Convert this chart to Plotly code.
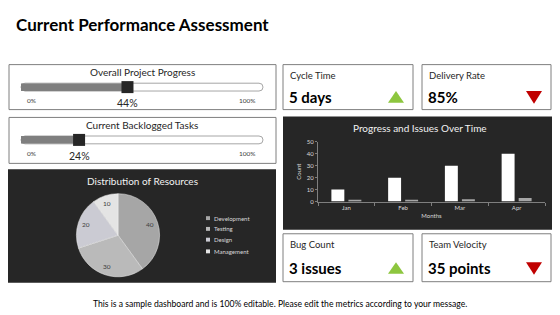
import math
import plotly.graph_objects as go

W, H = 560, 315
def X(p): return p / W
def Y(p): return 1 - p / H

FONT = "Lato"

# ---- data ----
progress_titles = ["Overall Project Progress", "Current Backlogged Tasks"]
progress_values = [44, 24]

kpi_labels = ["Cycle Time", "Delivery Rate", "Bug Count", "Team Velocity"]
kpi_values = ["5 days", "85%", "3 issues", "35 points"]
kpi_trend = ["up", "down", "up", "down"]

res_labels = ["Development", "Testing", "Design", "Management"]
res_values = [40, 30, 20, 10]
res_colors = ["#a6a6a6", "#bababa", "#cbcbd3", "#e4e4e4"]

months = ["Jan", "Feb", "Mar", "Apr"]
progress_series = [10, 20, 30, 40]
issues_series = [1, 1, 2, 3]

fig = go.Figure()
shapes = []
ann = []

def box(x0, y0, x1, y1, fill="white", line="#7f7f7f", lw=1):
    shapes.append(dict(type="rect", xref="paper", yref="paper", x0=X(x0), x1=X(x1),
                       y0=Y(y1), y1=Y(y0), fillcolor=fill, line=dict(color=line, width=lw),
                       layer="below"))

def text(x, y, s, size, color="#262626", xanchor="center", bold=False, xref="paper"):
    ann.append(dict(x=(X(x) if xref == "paper" else x), y=Y(y), xref=xref, yref="paper",
                    text=(f"<b>{s}</b>" if bold else s), showarrow=False,
                    xanchor=xanchor, yanchor="middle",
                    font=dict(family=FONT, size=size, color=color)))

# title
text(14, 21, "Current Performance Assessment", 17, "#000000", "left", True)

# ---- progress sliders ----
slider_boxes = [(9, 62, 276, 108), (9, 116, 276, 163)]
track_y = [85, 139]
for i, (title, val) in enumerate(zip(progress_titles, progress_values)):
    bx = slider_boxes[i]
    box(*bx)
    cy = track_y[i]
    text(142, bx[1] + 8, title, 10, "#262626")
    ax = i + 2
    xa, ya = f"x{ax}", f"y{ax}"
    r = 4
    x0, x1 = 21, 263
    path = (f"M {X(x0 + r)},{Y(cy - r)} L {X(x1 - r)},{Y(cy - r)} "
            f"Q {X(x1)},{Y(cy - r)} {X(x1)},{Y(cy)} Q {X(x1)},{Y(cy + r)} {X(x1 - r)},{Y(cy + r)} "
            f"L {X(x0 + r)},{Y(cy + r)} Q {X(x0)},{Y(cy + r)} {X(x0)},{Y(cy)} "
            f"Q {X(x0)},{Y(cy - r)} {X(x0 + r)},{Y(cy - r)} Z")
    shapes.append(dict(type="path", xref="paper", yref="paper", path=path,
                       fillcolor="white", line=dict(color="#a6a6a6", width=1), layer="below"))
    fig.add_trace(go.Bar(x=[val], y=[0], orientation="h", width=1, marker_color="#7f7f7f",
                         marker_line_width=0, xaxis=xa, yaxis=ya, showlegend=False,
                         hoverinfo="skip"))
    fig.add_trace(go.Scatter(x=[val], y=[0], mode="markers",
                             marker=dict(symbol="square", size=12, color="#262626"),
                             xaxis=xa, yaxis=ya, showlegend=False, cliponaxis=False,
                             hoverinfo="skip"))
    fig.layout[f"xaxis{ax}"] = dict(domain=[X(x0), X(x1)], range=[0, 100], visible=False,
                                    anchor=ya, fixedrange=True)
    fig.layout[f"yaxis{ax}"] = dict(domain=[Y(cy + 4), Y(cy - 4)], range=[-0.5, 0.5],
                                    visible=False, anchor=xa, fixedrange=True)
    text(31, cy + 14, "0%", 6.5, "#404040")
    text(247, cy + 14, "100%", 6.5, "#404040")
    ann.append(dict(x=val, y=Y(cy + 16), xref=xa, yref="paper", text=f"{val}%",
                    showarrow=False, xanchor="center", yanchor="middle",
                    font=dict(family=FONT, size=10.5, color="#262626")))

# ---- KPI boxes ----
kpi_boxes = [(283, 62, 413, 108), (422, 62, 551, 108), (283, 235, 413, 284), (422, 235, 551, 284)]
for (x0, y0, x1, y1), lab, v, tr in zip(kpi_boxes, kpi_labels, kpi_values, kpi_trend):
    box(x0, y0, x1, y1)
    text(x0 + 5, y0 + 11, lab, 9.5, "#262626", "left")
    vy = y0 + 33 if y1 - y0 < 48 else y0 + 35
    text(x0 + 4, vy, v, 15, "#000000", "left", True)
    tx = x1 - 17
    if tr == "up":
        p = f"M {X(tx - 8)},{Y(vy + 6)} L {X(tx + 8)},{Y(vy + 6)} L {X(tx)},{Y(vy - 6)} Z"
        col = "#8dc63f"
    else:
        p = f"M {X(tx - 8)},{Y(vy - 6)} L {X(tx + 8)},{Y(vy - 6)} L {X(tx)},{Y(vy + 7)} Z"
        col = "#c00000"
    shapes.append(dict(type="path", xref="paper", yref="paper", path=p, fillcolor=col,
                       line=dict(width=0)))

# ---- pie panel ----
box(8, 169, 276, 285, fill="#262626", line="#262626", lw=0)
text(142, 181, "Distribution of Resources", 10, "#f2f2f2")
pcx, pcy, pr = 118, 236.5, 42.5
fig.add_trace(go.Pie(labels=res_labels, values=res_values, sort=False, direction="clockwise",
                     rotation=0, marker=dict(colors=res_colors, line=dict(color="#f2f2f2", width=0.5)),
                     textinfo="none",
                     domain=dict(x=[X(pcx - pr), X(pcx + pr)], y=[Y(pcy + pr), Y(pcy - pr)]),
                     showlegend=False, hoverinfo="label+value"))
# value labels placed toward the outer edge of each slice (like the original)
tot = sum(res_values)
cum = 0
for v in res_values:
    mid = (cum + v / 2) / tot * 2 * math.pi
    cum += v
    rr = pr * 0.8
    text(pcx + rr * math.sin(mid), pcy - rr * math.cos(mid), str(v), 6.5, "#404040")
leg_y = [219, 230, 241, 253]
for lab, col, ly in zip(res_labels, res_colors, leg_y):
    shapes.append(dict(type="rect", xref="paper", yref="paper", x0=X(206), x1=X(210),
                       y0=Y(ly + 2), y1=Y(ly - 2), fillcolor=col, line=dict(width=0)))
    text(212, ly, lab, 6, "#d9d9d9", "left")

# ---- bar chart panel ----
box(283, 115, 552, 231, fill="#262626", line="#262626", lw=0)
text(420, 127, "Progress and Issues Over Time", 10, "#f2f2f2")
fig.add_trace(go.Bar(x=months, y=progress_series, marker_color="#ffffff", marker_line_width=0,
                     name="Progress", showlegend=False))
fig.add_trace(go.Bar(x=months, y=issues_series, marker_color="#a6a6a6", marker_line_width=0,
                     name="Issues", showlegend=False))
axfont = dict(family=FONT, size=6, color="#d9d9d9")
fig.update_layout(
    xaxis=dict(domain=[X(318), X(545)], anchor="y", showline=True, linecolor="#7f7f7f",
               linewidth=1, ticks="outside", tickson="boundaries", ticklen=3,
               tickcolor="#7f7f7f", tickfont=axfont, showgrid=False, zeroline=False,
               title=dict(text="Months", font=axfont, standoff=4), fixedrange=True),
    yaxis=dict(domain=[Y(202), Y(141)], anchor="x", range=[0, 50], tickvals=[0, 10, 20, 30, 40, 50],
               showline=True, linecolor="#7f7f7f", linewidth=1, ticks="outside", ticklen=2,
               tickcolor="#7f7f7f", tickfont=axfont, showgrid=False, zeroline=False,
               title=dict(text="Count", font=axfont, standoff=4), fixedrange=True),
    barmode="group", bargap=0.4, bargroupgap=0.24,
)

# footer
text(280, 307, "This is a sample dashboard and is 100% editable. Please edit the metrics according to your message.",
     8.6, "#000000")

fig.update_layout(width=W, height=H, margin=dict(l=0, r=0, t=0, b=0),
                  paper_bgcolor="white", plot_bgcolor="rgba(0,0,0,0)",
                  shapes=shapes, annotations=ann, showlegend=False,
                  font=dict(family=FONT))
fig.write_html("out.html")
